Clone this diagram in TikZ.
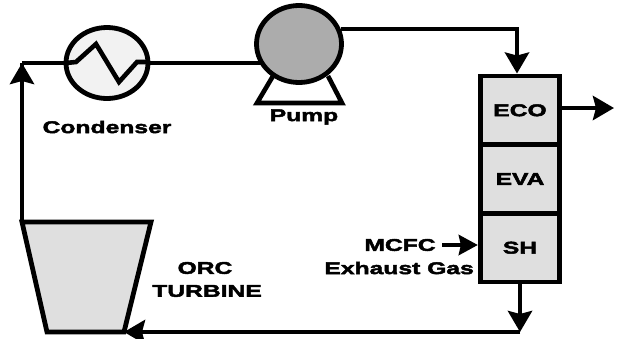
\documentclass[tikz,border=0pt]{standalone}
\usepackage{fontspec}
\usepackage{tikz}
\usetikzlibrary{arrows.meta}
\usetikzlibrary{shapes.geometric}
\newfontfamily\plantfont[FakeStretch=1.45,FakeBold=2.6]{Liberation Sans Bold}
\definecolor{plantgray}{HTML}{DFDFDF}
\tikzset{
  pipe/.style={line width=4.6pt},
  flow/.style={line width=4.6pt,-{Stealth[length=21pt,width=24pt,inset=3pt]}},
  gasflow/.style={line width=4.6pt,-{Stealth[length=19pt,width=20pt,inset=2pt]}},
  stage/.style={draw,line width=4.8pt,fill=plantgray,minimum width=79.5pt,minimum height=68.7pt,inner sep=0pt,font=\plantfont\fontsize{17}{17}\selectfont},
  lbl/.style={inner sep=0pt,font=\plantfont\fontsize{17}{17}\selectfont}
}
\begin{document}
\begin{tikzpicture}[x=1pt,y=-1pt]
\useasboundingbox (0,0) rectangle (618,338);
% coordinates
\coordinate (top) at (517,28);
\coordinate (corner) at (22,63);
\coordinate (out) at (614,108);
\coordinate (low) at (520,332);
\coordinate (gas) at (442,245);
\coordinate (tl) at (22,222);
\coordinate (tr) at (151,222);
\coordinate (br) at (124,332);
\coordinate (bl) at (47,332);
\coordinate (legl) at (273,76);
\coordinate (legr) at (328,76);
\coordinate (basel) at (257,103);
\coordinate (baser) at (342,103);
% lines behind the equipment
\draw[pipe] (corner) -- (299,63);
\draw[pipe] (tl) -- (corner);
% equipment
\draw[pipe,line join=miter] (legl) -- (basel) -- (baser) -- (legr);
\node[draw,line width=4.8pt,fill=gray!10,ellipse,minimum width=82pt,minimum height=71pt] (cond) at (107,63) {};
\node[draw,line width=4.8pt,fill=gray!65,ellipse,minimum width=85pt,minimum height=77pt] (pump) at (299,44) {};
\draw[pipe] (66,63) -- (76,62) -- (96,44) -- (119,82) -- (137,62) -- (148,62);
\filldraw[line width=4.8pt,fill=plantgray] (tl) -- (tr) -- (br) -- (bl) -- cycle;
\node[stage] (eco) at (520,110.3) {ECO};
\node[stage] (eva) at (520,179) {EVA};
\node[stage] (sh) at (520,247.7) {SH};
% labels
\node[lbl] (condlabel) at (107,127) {Condenser};
\node[lbl] (pumplabel) at (304,117) {Pump};
\node[lbl] (orc) at (205,268) {ORC};
\node[lbl] (turb) at (207,291) {TURBINE};
\node[lbl] (mcfc) at (400,245) {MCFC};
\node[lbl,anchor=east] (exh) at (474,268) {Exhaust Gas};
% arrows
\draw[flow] (pump.20) -- (pump.20 -| top) -- (eco.north -| top);
\draw[flow] (eco.east |- out) -- (out);
\draw[flow] (sh.south) -- (low);
\draw[flow] (low) -- (br);
\draw[flow] (tl) -- (corner);
\draw[gasflow] (gas) -- (gas -| sh.west);
\end{tikzpicture}
\end{document}
